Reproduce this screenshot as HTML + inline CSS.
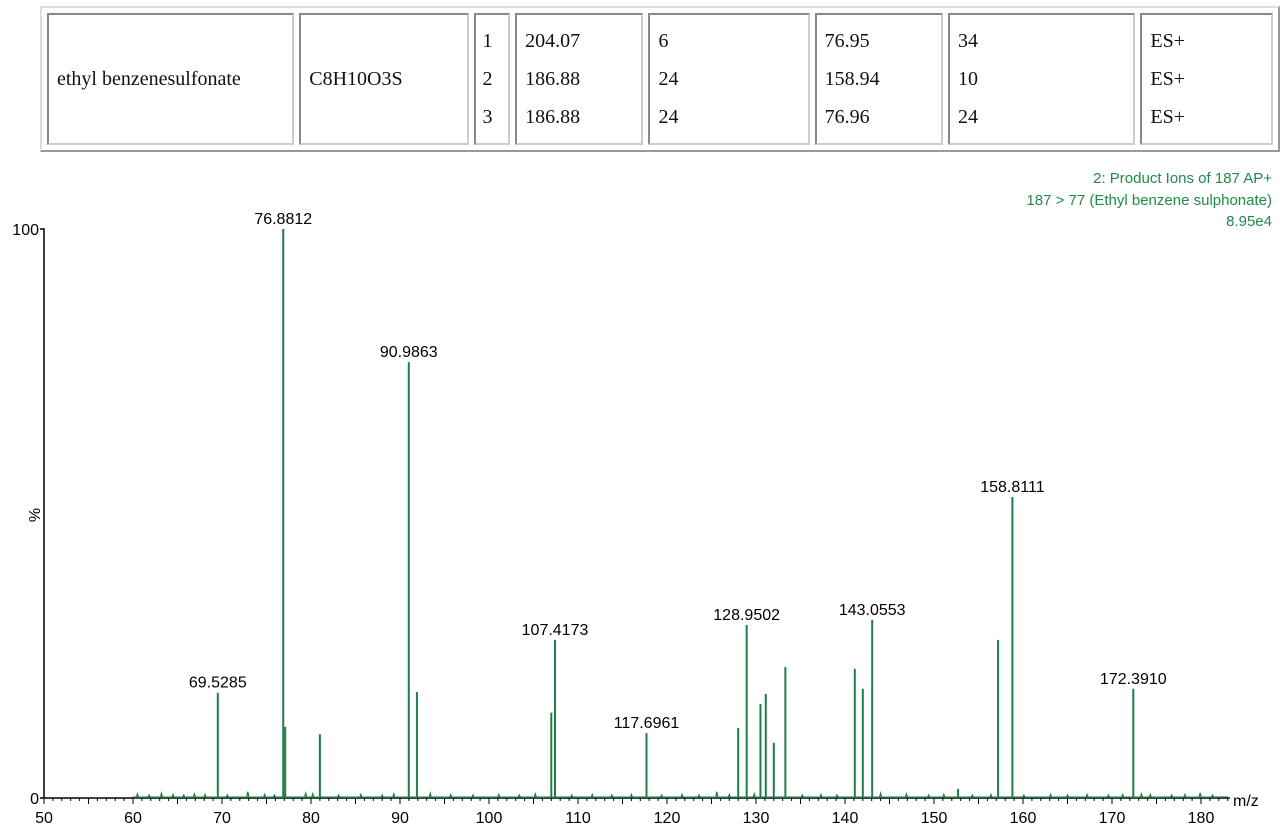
<!DOCTYPE html>
<html><head><meta charset="utf-8"><style>
body{margin:0;width:1280px;height:837px;background:#fff;overflow:hidden;position:relative;font-family:"Liberation Sans",sans-serif}
table.t{position:absolute;left:40px;top:6px;border-collapse:separate;border-spacing:5px;border:2px solid #999;border-top-color:#ddd;border-left-color:#ddd;font-family:"Liberation Serif",serif;font-size:20px;color:#111}
table.t td{border:2px solid #888;border-right-color:#ccc;border-bottom-color:#ccc;padding:0 8px;height:128px;vertical-align:middle;line-height:38px}
</style></head><body>
<table class="t"><tr>
<td style="width:230px">ethyl benzenesulfonate</td>
<td style="width:152px">C8H10O3S</td>
<td style="width:20px;padding:0 6px">1<br>2<br>3</td>
<td style="width:110px">204.07<br>186.88<br>186.88</td>
<td style="width:145px">6<br>24<br>24</td>
<td style="width:110px">76.95<br>158.94<br>76.96</td>
<td style="width:172px">34<br>10<br>24</td>
<td style="width:115px">ES+<br>ES+<br>ES+</td>
</tr></table>
<svg id="c" width="1280" height="837" style="position:absolute;left:0;top:0">
<g font-family="Liberation Sans, sans-serif" font-size="15" fill="#1f8a4a" text-anchor="end">
<text x="1272" y="183">2: Product Ions of 187 AP+</text>
<text x="1272" y="205">187 &gt; 77 (Ethyl benzene sulphonate)</text>
<text x="1272" y="226">8.95e4</text>
</g>
</svg>
<script>
const peakMz=[69.5285,76.8812,77.1,81.0,90.9863,91.9,107.0,107.4173,117.6961,128.0,128.9502,130.5,131.1,132.0,133.3,141.1,142.0,143.0553,152.7,157.2,158.8111,172.3910];
const peakPct=[18.5,100,12.5,11.2,76.6,18.6,15,27.8,11.4,12.3,30.4,16.5,18.3,9.7,23,22.7,19.2,31.3,1.6,27.8,52.9,19.2];
const labelMz=[69.5285,76.8812,90.9863,107.4173,117.6961,128.9502,143.0553,158.8111,172.3910];
const labelPct=[18.5,100,76.6,27.8,11.4,30.4,31.3,52.9,19.2];
const noiseMz=[60.5,61.8,63.2,64.5,65.7,66.9,68.1,70.6,72.9,74.8,75.9,79.4,80.2,83.1,85.6,88.0,89.3,93.4,95.7,98.2,101.1,103.4,105.2,109.3,111.6,113.8,116.0,119.4,121.7,123.6,125.6,127.0,129.8,135.2,137.3,139.1,144.0,146.9,149.4,151.1,154.3,156.4,160.1,163.1,165.0,167.2,169.6,171.2,173.3,174.3,176.7,178.2,179.9,181.3];
const noisePct=[0.7,0.5,0.8,0.6,0.5,0.7,0.6,0.5,1.1,0.6,0.5,0.8,0.7,0.5,0.6,0.5,0.7,0.8,0.6,0.5,0.6,0.5,0.7,0.5,0.6,0.5,0.6,0.5,0.6,0.5,1.1,0.6,0.7,0.5,0.6,0.5,0.8,0.7,0.5,0.6,0.5,0.6,0.5,0.6,0.5,0.6,0.5,0.6,0.7,0.6,0.5,0.6,0.9,0.5];
const xTicks=[50,60,70,80,90,100,110,120,130,140,150,160,170,180];
const NS='http://www.w3.org/2000/svg';
const svg=document.getElementById('c');
const X0=44,XS=8.9,Y0=798,YS=5.69;
const x=v=>X0+(v-50)*XS, y=p=>Y0-p*YS;
function mk(t,a){const e=document.createElementNS(NS,t);for(const k in a)e.setAttribute(k,a[k]);svg.appendChild(e);return e;}
// axes
let ya=mk('path',{d:`M${X0-4} ${y(100)}H${X0}V${Y0}`,stroke:'#000','stroke-width':1.5,fill:'none'});


let xa=mk('line',{x1:X0-4,x2:1230,y1:Y0,y2:Y0,stroke:'#000','stroke-width':1.5});


for(let v=50;v<=183;v++){let major=v%5===0;let t=mk('line',{x1:x(v),x2:x(v),y1:Y0,y2:Y0+(major?6:3),stroke:'#000'});

}
xTicks.forEach(v=>{let t=mk('text',{x:x(v),y:Y0+25,'text-anchor':'middle','font-size':16,'font-family':'Liberation Sans, sans-serif'});t.textContent=v;

});
[[0,Y0+6],[100,y(100)+6]].forEach(([v,yy])=>{let t=mk('text',{x:X0-5,y:yy,'text-anchor':'end','font-size':16,'font-family':'Liberation Sans, sans-serif'});t.textContent=v;

});
let yt=mk('text',{x:40,y:515,'font-size':16,'text-anchor':'middle',transform:'rotate(-90 40 515)'});yt.textContent='%';


let xt=mk('text',{x:1233,y:806,'font-size':16});xt.textContent='m/z';


// baseline noise
let d=`M${x(60)} ${Y0-1}`;
noiseMz.forEach((m,i)=>{d+=`L${x(m)-1} ${Y0-0.8}L${x(m)} ${y(noisePct[i])}L${x(m)+1} ${Y0-0.8}`;});
d+=`L${x(183)} ${Y0-1}`;
let nz=mk('path',{d:d,stroke:'#1f7d47','stroke-width':1.3,fill:'none'});


peakMz.forEach((m,i)=>{let l=mk('line',{x1:x(m),x2:x(m),y1:Y0,y2:y(peakPct[i]),stroke:'#1f7d47','stroke-width':2});

});
labelMz.forEach((m,i)=>{let t=mk('text',{x:x(m),y:y(labelPct[i])-5,'text-anchor':'middle','font-size':16,'font-family':'Liberation Sans, sans-serif'});t.textContent=m.toFixed(4);

});
</script>
</body></html>
